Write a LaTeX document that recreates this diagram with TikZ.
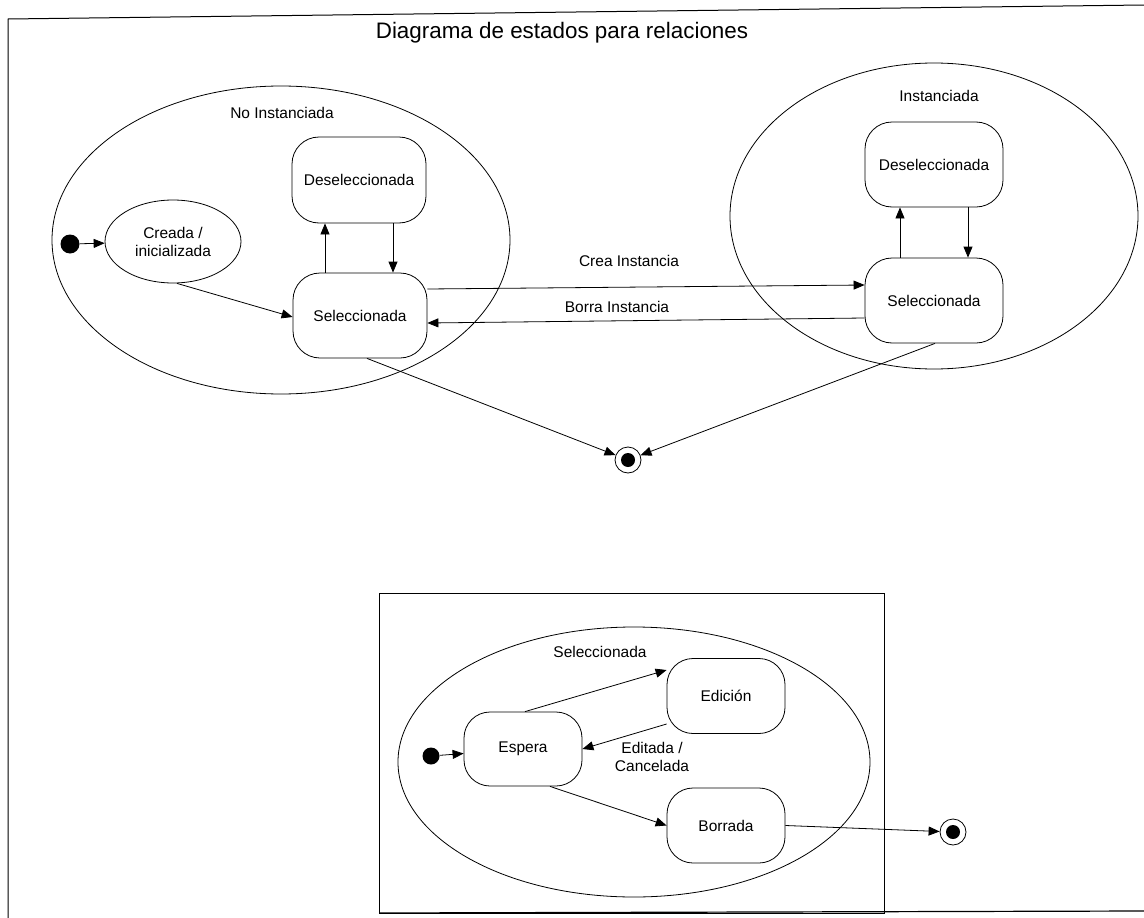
\documentclass[tikz,border=0pt]{standalone}
\usepackage{fontspec}
\setmainfont{Liberation Sans}
\usetikzlibrary{arrows.meta,shapes.geometric}
\begin{document}
\begin{tikzpicture}[x=1pt,y=-1pt,
  line width=0.8pt,
  every node/.style={font=\fontsize{15.5}{18}\selectfont},
  arr/.style={-{Triangle[length=11pt,width=9pt]}},
  state/.style={draw, rounded corners=27pt, minimum width=134pt, minimum height=85pt, align=center},
  sstate/.style={draw, rounded corners=26pt, minimum width=118pt, minimum height=75pt, align=center},
  region/.style={draw, ellipse, inner sep=0pt},
  startdot/.style={circle, fill=black, inner sep=0pt, minimum size=#1},
  enddot/.style={circle, draw, fill=white, inner sep=0pt, minimum size=26pt},
  lbl/.style={align=center}
]
\useasboundingbox (0,0) rectangle (1144,918);

% page frame
\draw[line width=1pt] (1144,5) -- (8,19) -- (8,918);
\draw[line width=1.2pt] (379,913) -- (1144,911);

\node (title) at (562,33) {\fontsize{22.4}{26}\selectfont Diagrama de estados para relaciones};

% ---- upper part: relation states ----
\node[region, minimum width=458pt, minimum height=308pt] (noinst) at (281,240) {};
\node (noinstlbl) at (282,113) {No Instanciada};
\node[region, minimum width=408pt, minimum height=306pt] (inst) at (934,216) {};
\node (instlbl) at (939,96) {Instanciada};

\node[startdot=19pt] (ini1) at (70,244) {};
\node[draw, ellipse, minimum width=136pt, minimum height=83pt, inner sep=0pt, align=center] (creada) at (173,241.5) {Creada /\\inicializada};
\node[state, minimum height=86pt] (desL) at (359,180) {Deseleccionada};
\node[state] (selL) at (360,315.5) {Seleccionada};
\node[state, minimum width=138pt] (desR) at (934,164.5) {Deseleccionada};
\node[state, minimum width=138pt] (selR) at (934,300.5) {Seleccionada};
\node[enddot] (fin1) at (628,460) {};
\node[startdot=14pt] at (fin1) {};

\draw[arr] (ini1) -- (creada);
\draw[arr] ([xshift=4pt]creada.south) -- ([yshift=-1.5pt]selL.west);
\draw[arr] ([xshift=-35pt]selL.north) -- ([xshift=-34pt]desL.south);
\draw[arr] ([xshift=34pt]desL.south) -- ([xshift=33pt]selL.north);
\draw[arr] ([xshift=-34pt]selR.north) -- ([xshift=-34pt]desR.south);
\draw[arr] ([xshift=34pt]desR.south) -- ([xshift=34pt]selR.north);
\draw[arr] ([yshift=26.5pt]selL.east) -- ([yshift=15.5pt]selR.west);
\node[lbl] (crealbl) at (629,261) {Crea Instancia};
\draw[arr] ([yshift=-17.5pt]selR.west) -- ([yshift=-7.5pt]selL.east);
\node[lbl] (borralbl) at (617,307) {Borra Instancia};
\draw[arr] ([xshift=7pt]selL.south) -- (fin1);
\draw[arr] ([xshift=1pt]selR.south) -- (fin1);

% ---- lower part: selected relation ----
\draw (379,593) rectangle (884,913);
\node[region, minimum width=472pt, minimum height=270pt] (selreg) at (634,762) {};
\node (selreglbl) at (600,652) {Seleccionada};

\node[startdot=17pt] (ini2) at (431,756) {};
\node[sstate, minimum height=74pt] (espera) at (523,749) {Espera};
\node[sstate] (edicion) at (726,696) {Edición};
\node[sstate] (borrada) at (726,825.5) {Borrada};
\node[enddot] (fin2) at (953,832) {};
\node[startdot=14pt] at (fin2) {};

\draw[arr] (ini2) -- (espera);
\draw[arr] ([xshift=2pt]espera.north) -- ([yshift=26pt]edicion.west);
\draw[arr] ([yshift=-28pt]edicion.west) -- (espera.east);
\node[lbl] (editlbl) at (652,757) {Editada /\\Cancelada};
\draw[arr] ([xshift=27pt]espera.south) -- (borrada.west);
\draw[arr] (borrada.east) -- (fin2);
\end{tikzpicture}
\end{document}
